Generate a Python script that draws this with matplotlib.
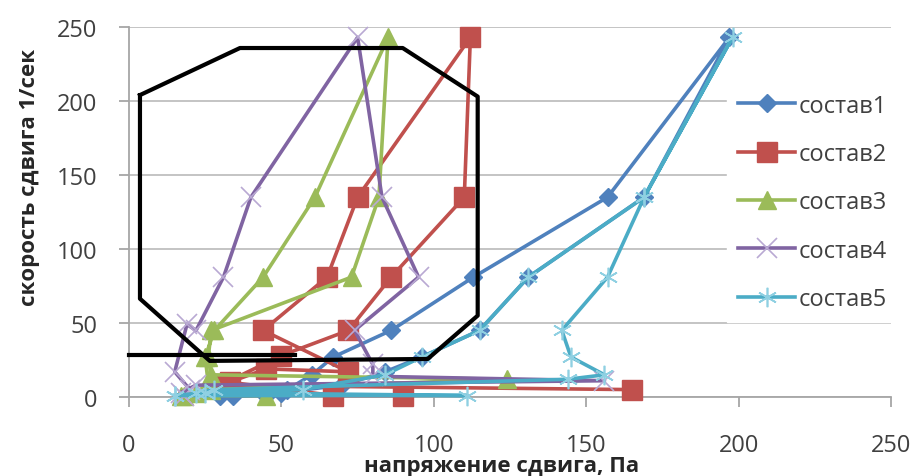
import matplotlib
matplotlib.use("Agg")
import matplotlib.pyplot as plt

# ── data: shear stress (Pa) vs shear rate (1/s), up + down branches ─────────
blue_x = [34, 45, 52, 60, 67, 86, 113, 157, 197, 169, 131, 115, 96, 84, 70, 50, 30]
blue_y = [0.5, 1, 5, 15, 27, 45, 81, 135, 243, 135, 81, 45, 27, 17, 8, 3, 1]

red_x = [90, 67, 33, 45, 72, 44, 65, 75, 112, 110, 86, 72, 50, 30, 165]
red_y = [1, 1, 10, 19, 17, 45, 81, 135, 243, 135, 81, 45, 28, 8, 5]

green_x = [17, 22, 26, 25, 28, 44, 61, 85, 82, 73, 27, 26, 27, 124, 27, 45, 18]
green_y = [1, 3, 9, 27, 45, 81, 135, 243, 135, 81, 45, 27, 15, 12, 5, 1, 1]

purple_x = [18, 20, 15, 19, 22, 31, 40, 75, 83, 95, 74, 80, 80, 156, 22, 17]
purple_y = [1, 5, 17, 49, 45, 81, 135, 243, 135, 81, 45, 22, 14, 11, 8, 3]

cyan_x = [15, 111, 22, 28, 144, 156, 145, 142, 157, 169, 198, 169, 131, 115, 96, 84, 57, 25, 15]
cyan_y = [1, 1, 3, 5, 12, 15, 27, 45, 81, 135, 243, 135, 81, 45, 27, 15, 5, 3, 1]

labels = ["состав1", "состав2", "состав3", "состав4", "состав5"]

# hand-drawn black outline on the chart (data coords)
outline_x = [3.6, 36.4, 89.8, 114.4, 114.4, 98, 26.5, 3.6, 3.6]
outline_y = [204, 235.8, 235.8, 203, 55, 25.7, 24.4, 66.4, 204]
bar_x = [0, 54.5]
bar_y = [28.5, 28.5]

# ── figure ──────────────────────────────────────────────────────────────────
plt.rcParams["font.family"] = ["Open Sans", "DejaVu Sans"]
fig = plt.figure(figsize=(9.16, 4.77), dpi=100)
ax = fig.add_axes([129 / 916, 1 - 398 / 477, (891 - 129) / 916, (398 - 28) / 477])

series = [
    (blue_x, blue_y, "#4F81BD", dict(marker="D", ms=9, mec="#4F81BD")),
    (red_x, red_y, "#C0504D", dict(marker="s", ms=14, mec="#C0504D")),
    (green_x, green_y, "#9BBB59", dict(marker="^", ms=13, mec="#9BBB59")),
    (purple_x, purple_y, "#8064A2", dict(marker="x", ms=14, mew=1.2, mec="#B9A9D3")),
    (cyan_x, cyan_y, "#4BACC6", dict(marker=(6, 2, 0), ms=14, mew=1.2, mec="#8FD0E2")),
]
for (xs, ys, col, mk), lab in zip(series, labels):
    ax.plot(xs, ys, color=col, lw=2.6, label=lab, clip_on=False, zorder=3, **mk)

ax.plot(outline_x, outline_y, color="black", lw=3, zorder=4, clip_on=False)
ax.plot(bar_x, bar_y, color="black", lw=3, zorder=4, clip_on=False)

ax.set_xlim(0, 250)
ax.set_ylim(0, 250)
ax.set_xticks(range(0, 251, 50))
ax.set_yticks(range(0, 251, 50))
ax.grid(axis="y", color="#BFBFBF", lw=1.3)
ax.set_axisbelow(True)
for s in ["top", "right"]:
    ax.spines[s].set_visible(False)
for s in ["left", "bottom"]:
    ax.spines[s].set_color("#A6A6A6")
    ax.spines[s].set_linewidth(1.3)
ax.tick_params(axis="both", colors="#A6A6A6", length=7, width=1.3,
               labelsize=17, labelcolor="#404040")
ax.tick_params(axis="x", pad=19)
ax.tick_params(axis="y", pad=16)

fig.text(502 / 916, 1 - 467 / 477, "напряжение сдвига, Па", fontsize=16,
         fontweight="bold", ha="center", va="center", color="#262626")
fig.text(30 / 916, 1 - 177 / 477, "скорость сдвига 1/сек", fontsize=16,
         fontweight="bold", rotation=90, ha="center", va="center", color="#262626")

leg = ax.legend(loc="upper left", bbox_to_anchor=(727 / 916, 1 - 84 / 477),
                bbox_transform=fig.transFigure, frameon=True, fancybox=False,
                facecolor="white", edgecolor="white", framealpha=1,
                fontsize=17, numpoints=1, handlelength=2.45, handletextpad=0.15,
                labelspacing=1.03, borderpad=0.45, borderaxespad=0)
for t in leg.get_texts():
    t.set_color("#404040")
leg.set_zorder(5)

fig.savefig("out.png", dpi=100)
